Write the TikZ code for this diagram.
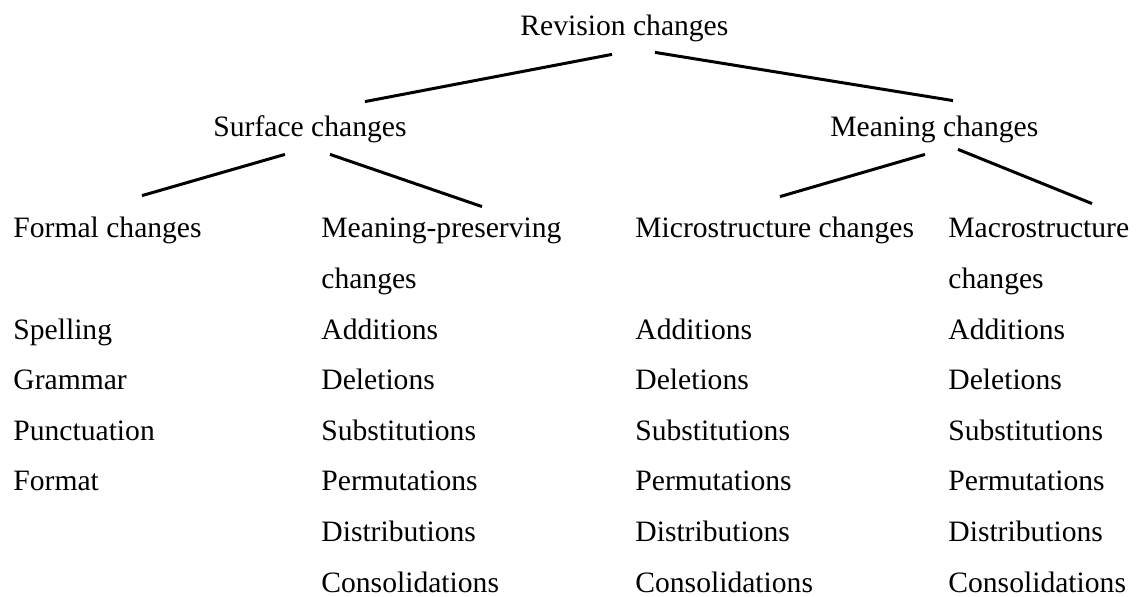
\documentclass[tikz,border=0pt]{standalone}
\usepackage{fontspec}
\setmainfont{Liberation Serif}
\begin{document}
\begin{tikzpicture}[x=0.5pt,y=-0.5pt,
    every node/.style={anchor=base west, inner sep=0pt, text height=10pt, text depth=3pt,
      font=\fontsize{14.8}{17}\selectfont},
    branch/.style={line width=1.5pt}]
  \useasboundingbox (0,0) rectangle (1142,597);

  % levels of the tree
  \node (rev)  at (520,36)  {Revision changes};
  \node (surf) at (213,137) {Surface changes};
  \node (mean) at (830,137) {Meaning changes};
  \node (formal) at (13,238)  {Formal changes};
  \node (mpres)  at (321,238) {Meaning-preserving};
  \node (mpresb) at (321,288.6) {changes};
  \node (micro)  at (635,238) {Microstructure changes};
  \node (macro)  at (948,238) {Macrostructure};
  \node (macrob) at (948,288.6) {changes};

  % lists below each heading
  \foreach \w [count=\i] in {Spelling,Grammar,Punctuation,Format}
    \node (formal\i) at (13,{339.2+50.6*(\i-1)}) {\w};
  \foreach \col/\x in {mpres/321,micro/635,macro/948}
    \foreach \w [count=\i] in {Additions,Deletions,Substitutions,Permutations,Distributions,Consolidations}
      \node (\col\i) at (\x,{339.2+50.6*(\i-1)}) {\w};

  \draw [branch] ([xshift=46pt,yshift=-6pt]rev.south west) -- ([xshift=76pt,yshift=7.5pt]surf.north west);
  \draw [branch] ([xshift=67.5pt,yshift=-5pt]rev.south west) -- ([xshift=61.5pt,yshift=8pt]mean.north west);
  \draw [branch] ([xshift=36pt,yshift=-5.5pt]surf.south west) -- ([xshift=64.5pt,yshift=11pt]formal.north west);
  \draw [branch] ([xshift=58.5pt,yshift=-5.5pt]surf.south west) -- ([xshift=80.5pt,yshift=5.5pt]mpres.north west);
  \draw [branch] ([xshift=47.5pt,yshift=-5.5pt]mean.south west) -- ([xshift=72.5pt,yshift=10.5pt]micro.north west);
  \draw [branch] ([xshift=64pt,yshift=-3pt]mean.south west) -- ([xshift=72pt,yshift=7pt]macro.north west);
\end{tikzpicture}
\end{document}
